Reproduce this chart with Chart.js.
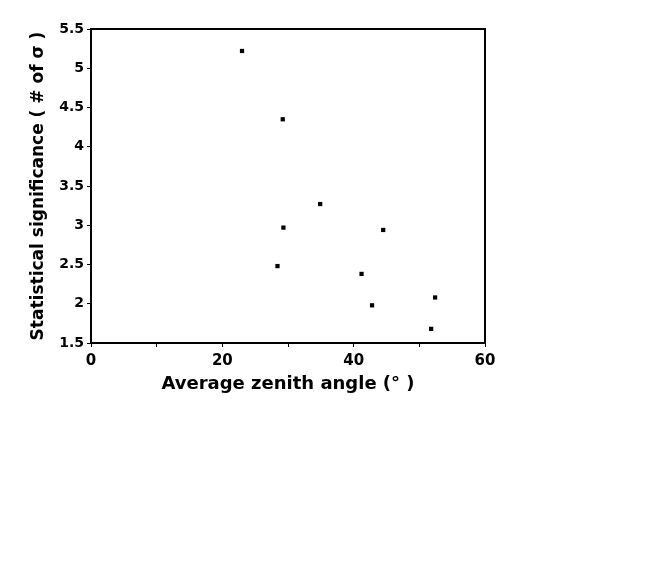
<!DOCTYPE html>
<html>
<head>
<meta charset="utf-8">
<script src="https://cdn.jsdelivr.net/npm/chart.js@4"></script>
<style>
  html, body { margin: 0; padding: 0; background: #fff; }
  #chart { display: block; }
</style>
</head>
<body>
<canvas id="chart" width="650" height="583"></canvas>
<script>
// zenith angle (deg) vs significance (sigma)
const zenithAngle = [23.0, 29.2, 34.9, 29.3, 44.5, 28.4, 41.2, 42.8, 52.4, 51.8];
const significance = [5.22, 4.35, 3.27, 2.97, 2.94, 2.48, 2.38, 1.98, 2.08, 1.68];

const xMin = 0, xMax = 60, xStep = 10;
const yMin = 1.5, yMax = 5.5, yStep = 0.5;
const xLabelled = [0, 20, 40, 60];

const font = 'DejaVu Sans, Verdana, sans-serif';

const points = zenithAngle.map((x, i) => ({ x: x, y: significance[i] }));

// full frame round the plot area
const framePlugin = {
  id: 'frame',
  afterDraw(chart) {
    const { ctx, chartArea: a } = chart;
    ctx.save();
    ctx.strokeStyle = '#000';
    ctx.lineWidth = 2;
    ctx.strokeRect(a.left, a.top, a.right - a.left, a.bottom - a.top);
    ctx.restore();
  }
};

new Chart(document.getElementById('chart'), {
  type: 'scatter',
  data: {
    datasets: [{
      data: points,
      pointStyle: 'rect',
      pointRadius: 3,
      pointBackgroundColor: '#000',
      pointBorderColor: '#000',
      pointBorderWidth: 0
    }]
  },
  options: {
    responsive: false,
    animation: false,
    layout: { padding: { left: 0, top: 29, right: 165, bottom: 180 } },
    plugins: { legend: { display: false }, tooltip: { enabled: false } },
    scales: {
      x: {
        type: 'linear',
        min: xMin, max: xMax,
        afterFit(scale) { scale.height = 60; },
        ticks: {
          stepSize: xStep,
          color: '#000',
          padding: 5,
          font: { family: font, size: 15, weight: 'bold' },
          callback: v => xLabelled.includes(v) ? String(v) : ''
        },
        grid: { drawOnChartArea: false, drawTicks: true, tickLength: 4, color: '#000', lineWidth: 1 },
        border: { color: '#000', width: 2 },
        title: {
          display: true,
          text: 'Average zenith angle (° )',
          color: '#000',
          font: { family: font, size: 18, weight: 'bold' },
          padding: { top: 4, bottom: 8 }
        }
      },
      y: {
        type: 'linear',
        min: yMin, max: yMax,
        afterFit(scale) { scale.width = 91; },
        ticks: {
          stepSize: yStep,
          color: '#000',
          padding: 3,
          font: { family: font, size: 14, weight: 'bold' },
          callback: v => String(v)
        },
        grid: { drawOnChartArea: false, drawTicks: true, tickLength: 4, color: '#000', lineWidth: 1 },
        border: { color: '#000', width: 2 },
        title: {
          display: true,
          text: 'Statistical significance ( # of σ )',
          color: '#000',
          font: { family: font, size: 17, weight: 'bold' },
          padding: { top: 28, bottom: 0 }
        }
      }
    }
  },
  plugins: [framePlugin]
});
</script>
</body>
</html>
